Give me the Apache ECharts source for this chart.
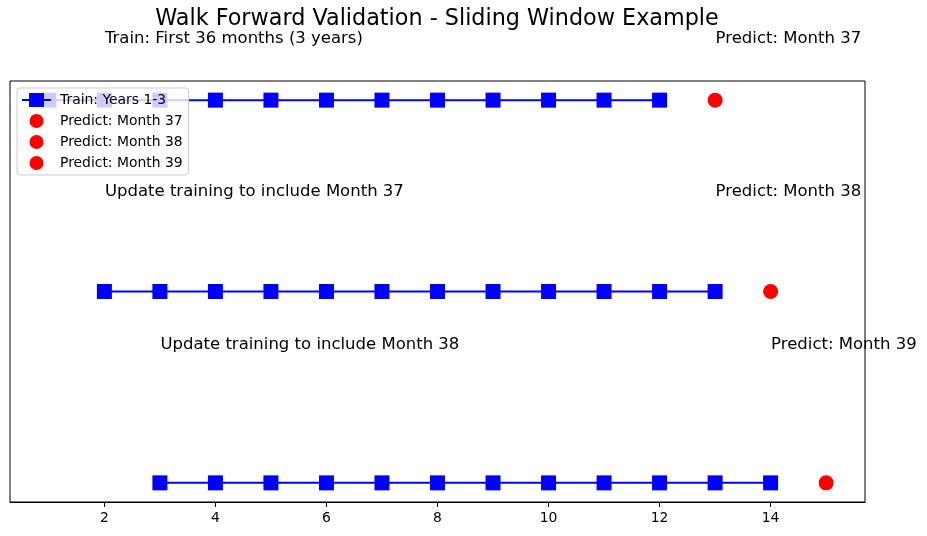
<!DOCTYPE html>
<html>
<head>
<meta charset="utf-8">
<script src="https://cdn.jsdelivr.net/npm/echarts@6/dist/echarts.min.js"></script>
<style>
html,body{margin:0;padding:0;background:#fff;}
#chart{width:927px;height:536px;}
</style>
</head>
<body>
<div id="chart"></div>
<script>
const chartTitle = 'Walk Forward Validation - Sliding Window Example';
const rowLevels = [3, 2, 1];
const trainRow1 = [1, 2, 3, 4, 5, 6, 7, 8, 9, 10, 11, 12];
const trainRow2 = [2, 3, 4, 5, 6, 7, 8, 9, 10, 11, 12, 13];
const trainRow3 = [3, 4, 5, 6, 7, 8, 9, 10, 11, 12, 13, 14];
const trainNames = ['Train: Years 1-3', 'Train row 2', 'Train row 3'];
const predictX = [13, 14, 15];
const predictNames = ['Predict: Month 37', 'Predict: Month 38', 'Predict: Month 39'];
const xTicks = [2, 4, 6, 8, 10, 12, 14];
const noteTexts = [
  'Train: First 36 months (3 years)', 'Predict: Month 37',
  'Update training to include Month 37', 'Predict: Month 38',
  'Update training to include Month 38', 'Predict: Month 39'
];
const noteX = [2, 13, 2, 13, 3, 14];
const noteY = [3.3, 3.3, 2.5, 2.5, 1.7, 1.7];

const FONT = 'DejaVu Sans';
const trainRows = [trainRow1, trainRow2, trainRow3];
const trainLegendIcon = 'path://M0,6H29V8H0Z M7,0H22V14H7Z';

const series = [];
trainRows.forEach((row, i) => {
  series.push({
    name: trainNames[i],
    type: 'line',
    data: row.map(x => [x, rowLevels[i]]),
    symbol: 'rect',
    symbolSize: 15,
    showSymbol: true,
    lineStyle: { color: '#0000ff', width: 2 },
    itemStyle: { color: '#0000ff', opacity: 1 },
    emphasis: { disabled: true },
    animation: false,
    z: 2
  });
});
predictX.forEach((x, i) => {
  series.push({
    name: predictNames[i],
    type: 'scatter',
    data: [[x, rowLevels[i]]],
    symbol: 'circle',
    symbolSize: 15,
    itemStyle: { color: '#ff0000', opacity: 1 },
    emphasis: { disabled: true },
    animation: false,
    z: 3
  });
});
series.push({
  name: 'notes',
  type: 'scatter',
  data: noteTexts.map((t, i) => [noteX[i], noteY[i], t]),
  symbolSize: 1,
  itemStyle: { color: 'rgba(0,0,0,0)', opacity: 1 },
  clip: false,
  silent: true,
  animation: false,
  label: {
    show: true,
    position: 'right',
    distance: 0,
    offset: [0, -4],
    formatter: p => p.data[2],
    fontFamily: FONT,
    fontSize: 16.5,
    color: '#000000',
    opacity: 1
  },
  z: 5
});

const chart = echarts.init(document.getElementById('chart'), null, { renderer: 'canvas' });
chart.setOption({
  backgroundColor: '#ffffff',
  animation: false,
  title: {
    text: chartTitle,
    left: 437,
    top: 8,
    padding: 0,
    textAlign: 'center',
    textStyle: { fontFamily: FONT, fontSize: 22.3, fontWeight: 'normal', color: '#000' }
  },
  legend: {
    data: [
      { name: trainNames[0], icon: trainLegendIcon },
      { name: predictNames[0] },
      { name: predictNames[1] },
      { name: predictNames[2] }
    ],
    orient: 'vertical',
    left: 17,
    top: 88,
    itemWidth: 29,
    itemHeight: 14,
    itemGap: 7,
    padding: [5, 6, 5, 5],
    backgroundColor: 'rgba(255,255,255,0.8)',
    borderColor: '#cccccc',
    borderWidth: 1,
    borderRadius: 3,
    selectedMode: false,
    textStyle: { fontFamily: FONT, fontSize: 13.9, color: '#000', padding: [0, 0, 0, 4] }
  },
  grid: {
    left: 10, right: 62, top: 81, bottom: 34,
    show: true, borderColor: '#000', borderWidth: 1, containLabel: false
  },
  xAxis: {
    type: 'value',
    min: 0.3,
    max: 15.7,
    splitLine: { show: false },
    axisLine: { show: true, onZero: false, lineStyle: { color: '#000', width: 1 } },
    axisTick: { show: true, customValues: xTicks, length: 5, lineStyle: { color: '#000' } },
    axisLabel: { show: true, customValues: xTicks, margin: 9, fontFamily: FONT, fontSize: 13.9, color: '#000' }
  },
  yAxis: {
    type: 'value',
    min: 0.9,
    max: 3.1,
    show: false
  },
  series: series
});
</script>
</body>
</html>
